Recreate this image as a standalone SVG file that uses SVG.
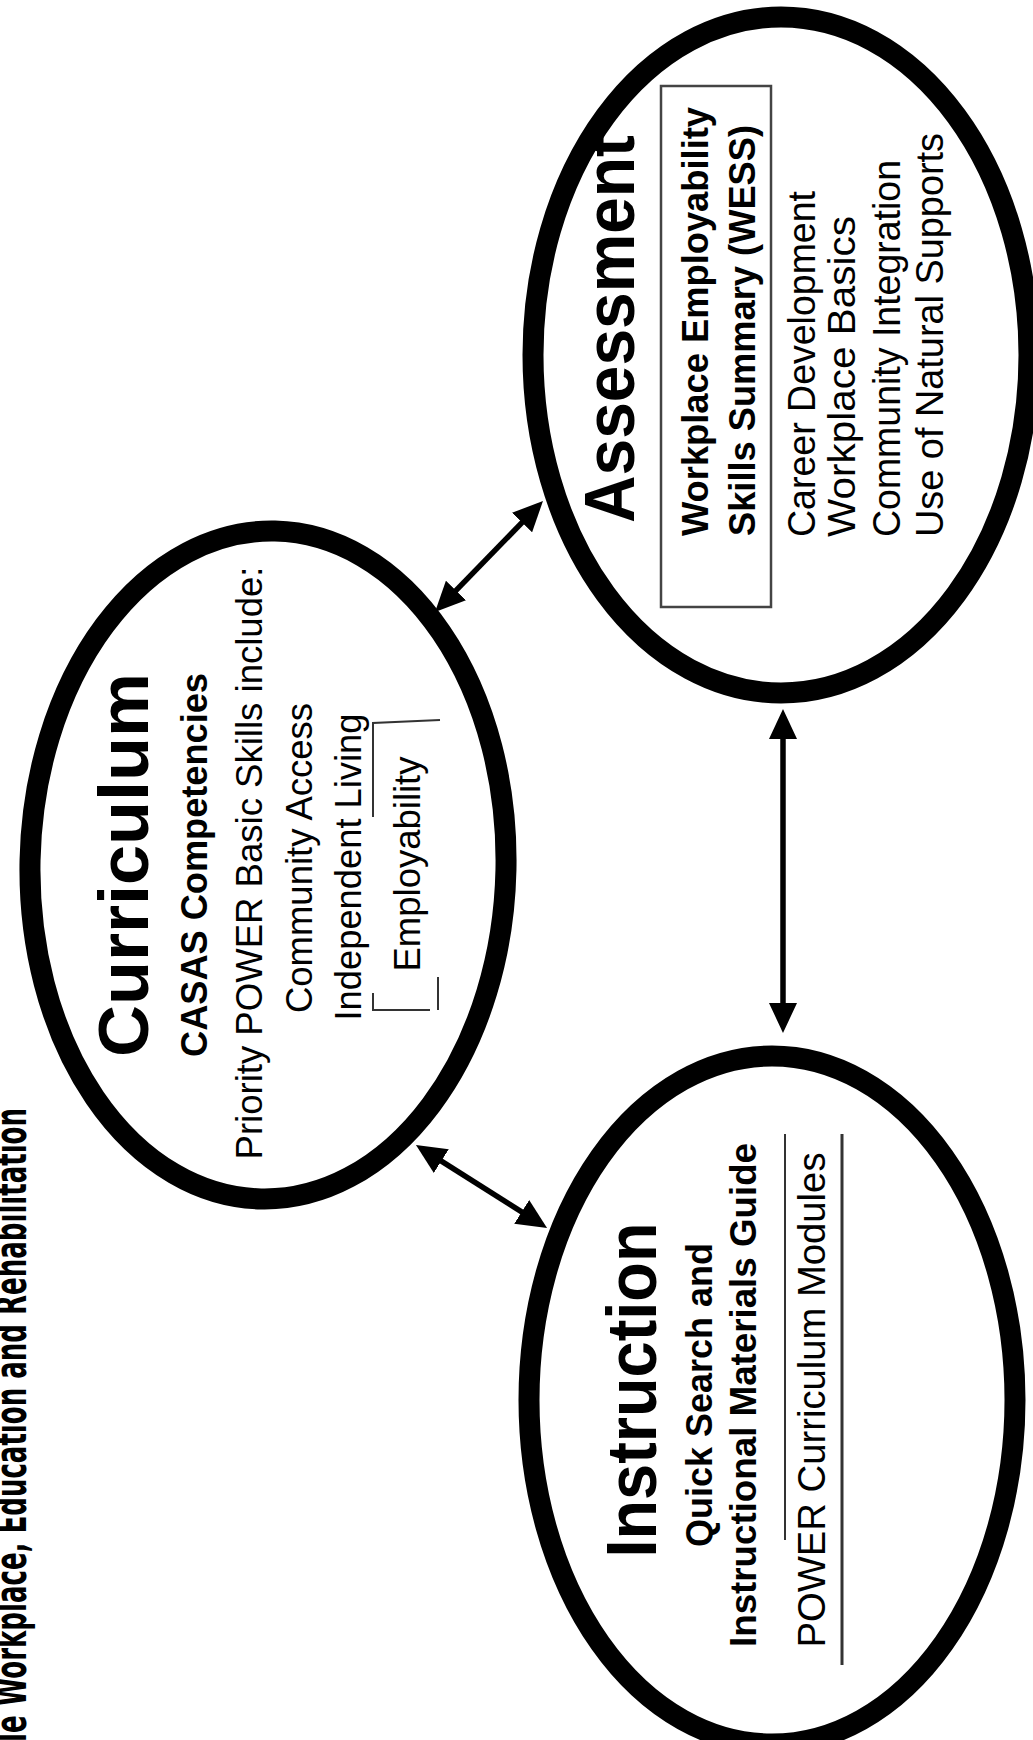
<svg xmlns="http://www.w3.org/2000/svg" width="1033" height="1740" viewBox="0 0 1033 1740">
<style>
.ell{fill:none;stroke:#000;stroke-width:21}
.t{font-family:"Liberation Sans",Arial,sans-serif;fill:#000}
.title{font-size:70px;font-weight:bold;text-anchor:middle}
.b{font-weight:bold}
.m{text-anchor:middle}
.s{text-anchor:start}
.conn{stroke:#000;stroke-width:5.5;fill:none}
.thin{stroke:#333;fill:none}
.hdr{font-family:"DejaVu Sans Condensed","DejaVu Sans",sans-serif;font-weight:bold;font-size:44px;fill:#000}
</style>
<defs>
<marker id="ah" markerUnits="userSpaceOnUse" markerWidth="30" markerHeight="28" viewBox="0 0 30 28" refX="20" refY="14" orient="auto-start-reverse">
<path d="M0,0 L30,14 L0,28 Z" fill="#000"/>
</marker>
</defs>
<rect width="1033" height="1740" fill="#fff"/>
<g id="header">
<text class="hdr" transform="translate(26,1742) rotate(-90)" textLength="634" lengthAdjust="spacingAndGlyphs">le Workplace, Education and Rehabilitation</text>
</g>
<g id="curriculum">
<ellipse class="ell" cx="268" cy="865" rx="238" ry="334" transform="rotate(1.2 268 865)"/>
<text class="t title" transform="translate(148,865) rotate(-90)" textLength="384" lengthAdjust="spacingAndGlyphs">Curriculum</text>
<text class="t b m" font-size="36" transform="translate(207,865) rotate(-90)" textLength="384" lengthAdjust="spacingAndGlyphs">CASAS Competencies</text>
<text class="t m" font-size="36.5" transform="translate(262,863) rotate(-90)" textLength="593" lengthAdjust="spacingAndGlyphs">Priority POWER Basic Skills include:</text>
<text class="t m" font-size="36" transform="translate(312,858) rotate(-90)" textLength="310" lengthAdjust="spacingAndGlyphs">Community Access</text>
<text class="t m" font-size="36" transform="translate(361,867) rotate(-90)" textLength="307" lengthAdjust="spacingAndGlyphs">Independent Living</text>
<path class="thin" stroke-width="2" d="M373,817 L373,723 L440,720 M373,993 L373,1010 L430,1010 M438,977 L438,1010"/>
<text class="t m" font-size="36" transform="translate(420,864) rotate(-90)" textLength="215" lengthAdjust="spacingAndGlyphs">Employability</text>
</g>
<g id="assessment">
<ellipse class="ell" cx="781" cy="355" rx="248" ry="338"/>
<text class="t title" transform="translate(634,329) rotate(-90)" textLength="388" lengthAdjust="spacingAndGlyphs">Assessment</text>
<rect x="661" y="86" width="110" height="521" fill="none" stroke="#444" stroke-width="2.5"/>
<text class="t b s" font-size="36" transform="translate(708,536) rotate(-90)" textLength="429" lengthAdjust="spacingAndGlyphs">Workplace Employability</text>
<text class="t b s" font-size="36" transform="translate(755,536) rotate(-90)" textLength="411" lengthAdjust="spacingAndGlyphs">Skills Summary (WESS)</text>
<text class="t s" font-size="38" transform="translate(815,537) rotate(-90)" textLength="346" lengthAdjust="spacingAndGlyphs">Career Development</text>
<text class="t s" font-size="38" transform="translate(855,537) rotate(-90)" textLength="321" lengthAdjust="spacingAndGlyphs">Workplace Basics</text>
<text class="t s" font-size="38" transform="translate(900,537) rotate(-90)" textLength="377" lengthAdjust="spacingAndGlyphs">Community Integration</text>
<text class="t s" font-size="38" transform="translate(943,537) rotate(-90)" textLength="404" lengthAdjust="spacingAndGlyphs">Use of Natural Supports</text>
</g>
<g id="instruction">
<ellipse class="ell" cx="772" cy="1400" rx="243" ry="344"/>
<text class="t title" transform="translate(656,1390) rotate(-90)" textLength="335" lengthAdjust="spacingAndGlyphs">Instruction</text>
<text class="t b m" font-size="36" transform="translate(712,1395) rotate(-90)" textLength="304" lengthAdjust="spacingAndGlyphs">Quick Search and</text>
<text class="t b m" font-size="36.5" transform="translate(756,1395) rotate(-90)" textLength="504" lengthAdjust="spacingAndGlyphs">Instructional Materials Guide</text>
<line class="thin" stroke-width="2" x1="785" y1="1134" x2="785" y2="1540"/>
<text class="t m" font-size="38" transform="translate(825,1400) rotate(-90)" textLength="495" lengthAdjust="spacingAndGlyphs">POWER Curriculum Modules</text>
<line class="thin" stroke-width="3" x1="842" y1="1134" x2="842" y2="1665"/>
</g>
<g id="connectors">
<line class="conn" x1="442" y1="604.8" x2="536" y2="508.2" marker-start="url(#ah)" marker-end="url(#ah)"/>
<line class="conn" x1="424.4" y1="1150.4" x2="538.6" y2="1222.6" marker-start="url(#ah)" marker-end="url(#ah)"/>
<line class="conn" x1="783" y1="719" x2="783" y2="1023" marker-start="url(#ah)" marker-end="url(#ah)"/>
</g>
</svg>
